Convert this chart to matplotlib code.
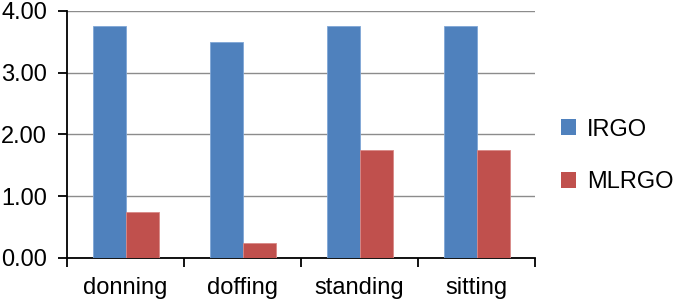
import numpy as np
import matplotlib
matplotlib.use("Agg")
import matplotlib.pyplot as plt
from matplotlib.patches import Patch

categories = ["donning", "doffing", "standing", "sitting"]
irgo = [3.75, 3.50, 3.75, 3.75]
mlrgo = [0.75, 0.25, 1.75, 1.75]
series_names = ["IRGO", "MLRGO"]
colors = ["#4F81BD", "#C0504D"]

plt.rcParams["font.family"] = ["Liberation Sans", "DejaVu Sans"]

fig = plt.figure(figsize=(6.75, 3.01), dpi=100)
ax = fig.add_axes([0.0993, 0.1429, 0.6933, 0.8206])

x = np.arange(len(categories))
w = 0.282
ax.bar(x - w / 2, irgo, w, color=colors[0], edgecolor="#7FA6D6", linewidth=0.6, zorder=3)
ax.bar(x + w / 2, mlrgo, w, color=colors[1], edgecolor="#D98886", linewidth=0.6, zorder=3)

ax.set_xlim(-0.5, len(categories) - 0.5)
ax.set_ylim(0, 4)
ax.set_yticks([0, 1, 2, 3, 4])
ax.set_yticklabels(["{:.2f}".format(v) for v in [0, 1, 2, 3, 4]])
ax.yaxis.grid(True, color="#8C8C8C", linewidth=1.0, zorder=0)
ax.set_axisbelow(True)

ax.set_xticks(x)
ax.set_xticklabels(categories)
ax.set_xticks(np.arange(len(categories) + 1) - 0.5, minor=True)
ax.tick_params(axis="x", which="major", length=0, pad=14, labelsize=17)
ax.tick_params(axis="x", which="minor", length=6.5, width=1.3, direction="out")
ax.tick_params(axis="y", length=6.5, width=1.3, direction="out", pad=8, labelsize=17)

for s in ["top", "right"]:
    ax.spines[s].set_visible(False)
for s in ["left", "bottom"]:
    ax.spines[s].set_linewidth(1.3)

handles = [Patch(facecolor=c, edgecolor="none") for c in colors]
fig.legend(handles, series_names, loc="center left", bbox_to_anchor=(0.831, 0.482),
           frameon=False, fontsize=17, handlelength=0.64, handleheight=0.64,
           handletextpad=0.45, labelspacing=1.3, borderpad=0, borderaxespad=0)

fig.savefig("out.png", dpi=100)
